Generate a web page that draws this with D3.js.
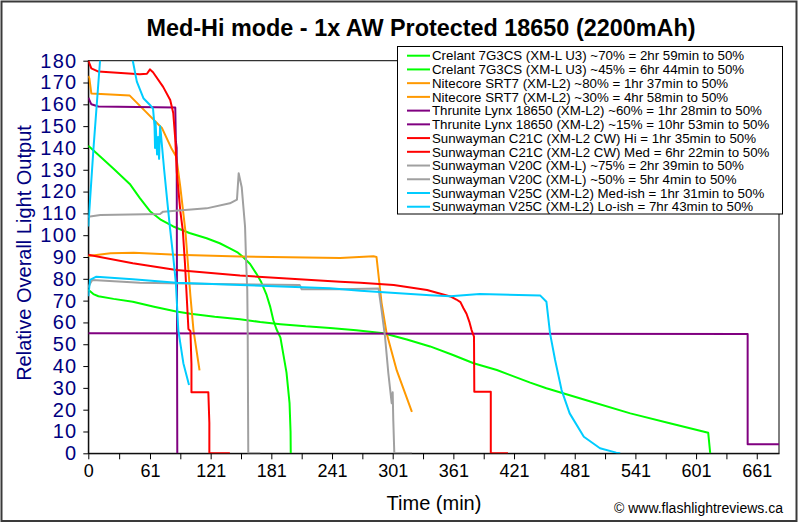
<!DOCTYPE html>
<html><head><meta charset="utf-8">
<script src="https://cdn.jsdelivr.net/npm/d3@7/dist/d3.min.js"></script>
<style>
html,body{margin:0;padding:0;background:#fff;}
svg{display:block;font-family:"Liberation Sans",Arial,sans-serif;}
</style></head>
<body><svg id="chart" width="800" height="524"></svg>
<script>
// ---------- DATA ----------
const chartTitle = "Med-Hi mode - 1x AW Protected 18650 (2200mAh)";
const xTickLabels = [0, 61, 121, 181, 241, 301, 361, 421, 481, 541, 601, 661];
const yTickLabels = [0, 10, 20, 30, 40, 50, 60, 70, 80, 90, 100, 110, 120, 130, 140, 150, 160, 170, 180];

const seriesNames = [
  "Crelant 7G3CS (XM-L U3) ~70% = 2hr 59min to 50%",
  "Crelant 7G3CS (XM-L U3) ~45% = 6hr 44min to 50%",
  "Nitecore SRT7 (XM-L2) ~80% = 1hr 37min to 50%",
  "Nitecore SRT7 (XM-L2) ~30% = 4hr 58min to 50%",
  "Thrunite Lynx 18650 (XM-L2) ~60% = 1hr 28min to 50%",
  "Thrunite Lynx 18650 (XM-L2) ~15% = 10hr 53min to 50%",
  "Sunwayman C21C (XM-L2 CW) Hi = 1hr 35min to 50%",
  "Sunwayman C21C (XM-L2 CW) Med = 6hr 22min to 50%",
  "Sunwayman V20C (XM-L) ~75% = 2hr 39min to 50%",
  "Sunwayman V20C (XM-L) ~50% = 5hr 4min to 50%",
  "Sunwayman V25C (XM-L2) Med-ish = 1hr 31min to 50%",
  "Sunwayman V25C (XM-L2) Lo-ish = 7hr 43min to 50%"
];
const seriesColors = ["#00FF00","#00FF00","#FF9900","#FF9900","#800080","#800080",
                      "#FF0000","#FF0000","#A0A0A0","#A0A0A0","#00CCFF","#00CCFF"];

// [time (min), relative output]
const crelantHi = [[0,141],[6,138.5],[12,136],[25,130.5],[41,123.5],[51,117],[61,111],[72,107],[84,104],[100,101],[117,98.6],[130,96.3],[140,94],[148,92],[153,90],[160,86.8],[166,82.5],[171,78.5],[176,73],[180,67],[183,61],[186,57],[190,53],[193,45],[196,37],[199,23],[200,10],[200.2,0]];
const crelantLo = [[0,75],[5,73],[10,72],[25,70.8],[44,69.5],[65,67.2],[87,65],[101,64],[125,62.6],[150,61.5],[170,60.2],[190,59.2],[215,58.2],[239,57.5],[265,56.4],[292,55],[315,52.2],[338,49],[360,45.2],[381,41.3],[404,38.2],[437,32.4],[453,29.8],[495,24],[536,18.3],[575,13.8],[613,9.4],[615,0]];
const nitecoreHi = [[0,173],[1,172],[3,165],[41,164],[56,157],[73,149],[82,140],[87,136],[91,122],[96,102],[101,72],[104,56.5],[110,38]];
const nitecoreLo = [[0,90.5],[22,91.7],[45,92],[87,91],[150,90.2],[249,89.5],[282,90.3],[285,90],[290,69],[295,55],[305,38],[320,19]];
const lynxHi = [[0,163],[3,160],[10,159],[86,158.5],[86.6,143],[87.4,140],[88,0]];
const lynxLo = [[0,55],[652,54.7],[652,4.1],[683,4.1]];
const c21cHi = [[0,180],[3,176.5],[10,175],[51,173.8],[58,174],[61,176],[64,174.7],[74,168],[81,162],[84,156],[86,144],[87.5,129],[91,111],[93.5,102],[95.6,87],[97.3,72],[99,57],[101,56],[102,41],[102,28],[118.7,28],[119.7,14],[119.7,0],[140,0]];
const c21cMed = [[0,91],[44,87.1],[87,84],[150,81.5],[249,78.7],[269,78.2],[302,77.2],[335,74.9],[358,71.9],[364,70.5],[368,69.3],[371,66.5],[374,64],[377,60],[379,56.5],[381.4,53.5],[381.7,28.2],[398,28.2],[398,0],[415,0]];
const v20cHi = [[0,108.5],[12,109.3],[71,109.7],[74,110.8],[117,112.3],[140,114.6],[147,116.3],[148.7,128.4],[151.7,122],[155,104],[156,88.6],[157.2,75],[157.6,56.5],[158.2,0],[170,0]];
const v20cLo = [[0,76],[2,78],[4,79.5],[51,78.2],[125,77.6],[209,77.2],[211,75.2],[249,75.2],[287,75.6],[290,65.7],[293.4,53.5],[296.7,36.7],[300,23],[301,28],[301.6,15],[302.6,0],[320,0]];
const v25cMed = [[0,104],[5,139],[11.6,180],[16,195],[40,195],[44,180],[48,170.4],[54.5,162.8],[61,159.7],[64,158],[65.5,150],[66,140],[66.5,152],[68,137],[69,145],[70,135],[71,150],[71.5,148],[75,130],[78,116],[80.6,104],[84,90],[86.6,78],[89,56.5],[94,41.3],[99.6,31.3]];
const v25cLo = [[0,72],[1.7,79.5],[8,81],[44,79.8],[87,78.2],[150,77.2],[239,75.7],[269,74.5],[338,72.5],[358,72],[387,73],[447,72.3],[453,69.5],[456.6,55],[461.6,42.8],[468,29],[476,18.3],[490,7.6],[506,2.3],[522,0.3],[526,0]];

const seriesData = [crelantHi, crelantLo, nitecoreHi, nitecoreLo, lynxHi, lynxLo, c21cHi, c21cMed, v20cHi, v20cLo, v25cMed, v25cLo];

// ---------- DRAW ----------
const svg = d3.select("#chart");
const W = 800, H = 524;
const plot = {left: 88.3, right: 779, top: 60.7, bottom: 453.3};
const x = d3.scaleLinear().domain([0, 683]).range([plot.left, plot.right]);
const y = d3.scaleLinear().domain([0, 180]).range([plot.bottom, plot.top]);

svg.append("rect").attr("x", 0).attr("y", 0).attr("width", W).attr("height", H).attr("fill", "#fff");
svg.append("rect").attr("x", 1.5).attr("y", 1.5).attr("width", 795).attr("height", 519.5)
   .attr("fill", "#fff").attr("stroke", "#3a3a3a").attr("stroke-width", 2);

// title
svg.append("text").attr("x", 421).attr("y", 35.5).attr("text-anchor", "middle")
   .attr("font-size", 23.4).attr("font-weight", "bold").attr("fill", "#000").text(chartTitle);

// plot area
svg.append("rect").attr("x", plot.left).attr("y", plot.top)
   .attr("width", plot.right - plot.left).attr("height", plot.bottom - plot.top)
   .attr("fill", "#fff").attr("stroke", "#000").attr("stroke-width", 1);

svg.append("defs").append("clipPath").attr("id", "clip").append("rect")
   .attr("x", plot.left).attr("y", plot.top)
   .attr("width", plot.right - plot.left).attr("height", plot.bottom - plot.top);

// axes
const xMinor = xTickLabels.slice(0, -1).map((d, i) => (d + xTickLabels[i + 1]) / 2);
const xAxis = d3.axisBottom(x).tickValues(xTickLabels).tickSize(6).tickSizeOuter(0).tickPadding(5)
                .tickFormat(d => String(d));
const gx = svg.append("g").attr("transform", `translate(0,${plot.bottom})`).call(xAxis);
gx.selectAll("text").attr("font-size", 18).attr("fill", "#000").attr("font-family", "Liberation Sans, Arial, sans-serif");
gx.select(".domain").attr("stroke", "#000");
gx.selectAll(".tick line").attr("stroke", "#000");
svg.append("g").attr("transform", `translate(0,${plot.bottom})`)
   .call(d3.axisBottom(x).tickValues(xMinor).tickSize(6).tickFormat(""))
   .call(g => { g.select(".domain").remove(); g.selectAll("line").attr("stroke", "#000"); });

const yAxis = d3.axisLeft(y).tickValues(yTickLabels).tickSize(5).tickSizeOuter(0).tickPadding(6);
const gy = svg.append("g").attr("transform", `translate(${plot.left},0)`).call(yAxis);
gy.selectAll("text").attr("font-size", 20).attr("fill", "#000080")
  .attr("font-family", "Liberation Sans, Arial, sans-serif").attr("letter-spacing", 1.2);
gy.select(".domain").attr("stroke", "#000");
gy.selectAll(".tick line").attr("stroke", "#000");

// axis titles
svg.append("text").attr("transform", "translate(31,253) rotate(-90)").attr("text-anchor", "middle")
   .attr("font-size", 20).attr("fill", "#000080").text("Relative Overall Light Output");
svg.append("text").attr("x", 434).attr("y", 509.5).attr("text-anchor", "middle")
   .attr("font-size", 20).attr("fill", "#000").text("Time (min)");
svg.append("text").attr("x", 783).attr("y", 513).attr("text-anchor", "end")
   .attr("font-size", 14).attr("fill", "#000").text("\u00A9 www.flashlightreviews.ca");

// series
const line = d3.line().x(d => x(d[0])).y(d => y(d[1]));
const gLines = svg.append("g").attr("clip-path", "url(#clip)");
seriesData.forEach((s, i) => {
  gLines.append("path").datum(s).attr("d", line).attr("fill", "none")
    .attr("stroke", seriesColors[i]).attr("stroke-width", 2).attr("stroke-linejoin", "round");
});

// legend
const lg = svg.append("g");
lg.append("rect").attr("x", 397.5).attr("y", 46.5).attr("width", 385).attr("height", 167.5)
  .attr("fill", "#fff").attr("stroke", "#000").attr("stroke-width", 1);
seriesNames.forEach((n, i) => {
  const yy = 55.7 + i * 13.73;
  lg.append("line").attr("x1", 407).attr("x2", 430).attr("y1", yy).attr("y2", yy)
    .attr("stroke", seriesColors[i]).attr("stroke-width", 2);
  lg.append("text").attr("x", 432).attr("y", yy + 4.7).attr("font-size", 13.3).attr("fill", "#000").text(n);
});
</script></body></html>
